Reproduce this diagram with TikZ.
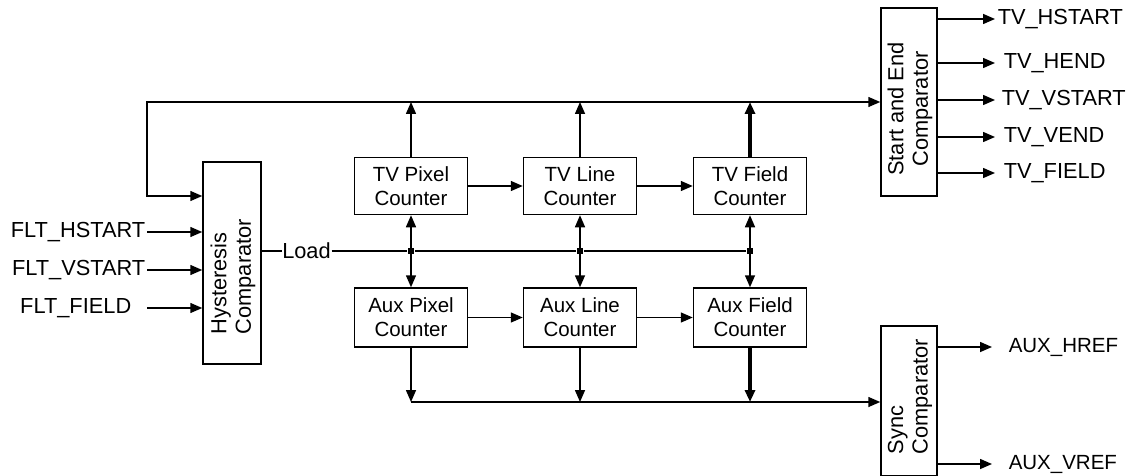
\documentclass[tikz,border=0pt]{standalone}
\usepackage{fontspec}
\setmainfont{Liberation Sans}
\usetikzlibrary{arrows.meta}
\begin{document}
\begin{tikzpicture}[x=1pt,y=-1pt,
  font=\fontsize{21.8}{24.5}\selectfont,
  line width=1.5pt,
  tip/.style={-{Triangle[length=12pt,width=10pt]}},
  counter/.style={draw,minimum width=113pt,minimum height=57pt,inner sep=0pt,align=center,
    font=\fontsize{20.5}{24}\selectfont},
  vbox/.style={draw,inner sep=0pt},
  rlabel/.style={rotate=90,anchor=west,align=left,inner sep=0pt},
  lbl/.style={inner sep=0pt},
  junc/.style={fill,minimum size=6pt,inner sep=0pt},
  thick line/.style={line width=3.2pt}]
\useasboundingbox (0,0) rectangle (1126,476);

% boxes
\node[vbox,minimum width=58pt,minimum height=202pt] (hyst) at (232,263) {};
\node[rlabel] (hystt) at (233,335) {Hysteresis\\Comparator};
\node[vbox,minimum width=56pt,minimum height=188pt] (se) at (909,102) {};
\node[rotate=90,align=center,inner sep=0pt] (set) at (910,109) {Start and End\\Comparator};
\node[vbox,minimum width=56pt,minimum height=150pt] (sync) at (909,401) {};
\node[rlabel] (synct) at (910,455) {Sync\\Comparator};

\node[counter] (tvp) at (411,186) {TV Pixel\\Counter};
\node[counter] (tvl) at (580,186) {TV Line\\Counter};
\node[counter] (tvf) at (750,186) {TV Field\\Counter};
\node[counter,minimum height=59pt] (axp) at (411,317.5) {Aux Pixel\\Counter};
\node[counter,minimum height=59pt] (axl) at (580,317.5) {Aux Line\\Counter};
\node[counter,minimum height=59pt] (axf) at (750,317.5) {Aux Field\\Counter};

% feedback / top bus
\coordinate (fbtop) at (147,102);
\coordinate (fbbot) at (147,196);
\draw[{Triangle[length=12pt,width=10pt]}-{Triangle[length=12pt,width=10pt]}]
  (hyst.west |- fbbot) -- (fbbot) -- (fbtop) -- (se.west |- fbtop);
\draw[tip] (tvp.north) -- (tvp.north |- fbtop);
\draw[tip] (tvl.north) -- (tvl.north |- fbtop);
\draw[tip,thick line] (tvf.north) -- (tvf.north |- fbtop);

% inputs
\coordinate (in1) at (147,232);
\coordinate (in2) at (147,270);
\coordinate (in3) at (147,308);
\node[lbl,anchor=east] (l1) at (146,232) {FLT\_HSTART};
\node[lbl,anchor=east] (l2) at (146,270) {FLT\_VSTART};
\node[lbl,anchor=east] (l3) at (132,308) {FLT\_FIELD};
\draw[tip] (in1) -- (hyst.west |- in1);
\draw[tip] (in2) -- (hyst.west |- in2);
\draw[tip] (in3) -- (hyst.west |- in3);

% load bus
\node[lbl] (load) at (306.5,251) {Load};
\node[junc] (j1) at (411,251) {};
\node[junc] (j2) at (580,251) {};
\node[junc] (j3) at (750,251) {};
\draw (hyst.east |- load) -- (load.west);
\draw (load.east) -- (j1) -- (j2) -- (j3);
\draw[tip] (j1.center) -- (tvp.south);
\draw[tip] (j1.center) -- (axp.north);
\draw[tip] (j2.center) -- (tvl.south);
\draw[tip] (j2.center) -- (axl.north);
\draw[tip] (j3.center) -- (tvf.south);
\draw[tip] (j3.center) -- (axf.north);

% counter chains
\draw[tip] (tvp.east) -- (tvl.west);
\draw[tip] (tvl.east) -- (tvf.west);
\draw[tip] (axp.east) -- (axl.west);
\draw[tip] (axl.east) -- (axf.west);

% bottom bus
\coordinate (bb) at (411,402);
\draw[tip] (bb) -- (sync.west |- bb);
\draw[tip] (axp.south) -- (axp.south |- bb);
\draw[tip] (axl.south) -- (axl.south |- bb);
\draw[tip,thick line] (axf.south) -- (axf.south |- bb);

% start/end outputs
\coordinate (o1) at (995,19);
\coordinate (o2) at (995,63);
\coordinate (o3) at (995,100);
\coordinate (o4) at (995,137);
\coordinate (o5) at (995,173);
\draw[tip] (se.east |- o1) -- (o1);
\draw[tip] (se.east |- o2) -- (o2);
\draw[tip] (se.east |- o3) -- (o3);
\draw[tip] (se.east |- o4) -- (o4);
\draw[tip] (se.east |- o5) -- (o5);
\node[lbl,anchor=west] (t1) at (997,19) {TV\_HSTART};
\node[lbl,anchor=west] (t2) at (1003,63) {TV\_HEND};
\node[lbl,anchor=west] (t3) at (1001,100) {TV\_VSTART};
\node[lbl,anchor=west] (t4) at (1003,137) {TV\_VEND};
\node[lbl,anchor=west] (t5) at (1003,173) {TV\_FIELD};

% sync outputs
\coordinate (s1) at (992,347);
\coordinate (s2) at (992,464);
\draw[tip] (sync.east |- s1) -- (s1);
\draw[tip] (sync.east |- s2) -- (s2);
\node[lbl,anchor=west,font=\fontsize{20.5}{24}\selectfont] (a1) at (1008,347) {AUX\_HREF};
\node[lbl,anchor=west,font=\fontsize{20.5}{24}\selectfont] (a2) at (1008,464) {AUX\_VREF};
\end{tikzpicture}
\end{document}
